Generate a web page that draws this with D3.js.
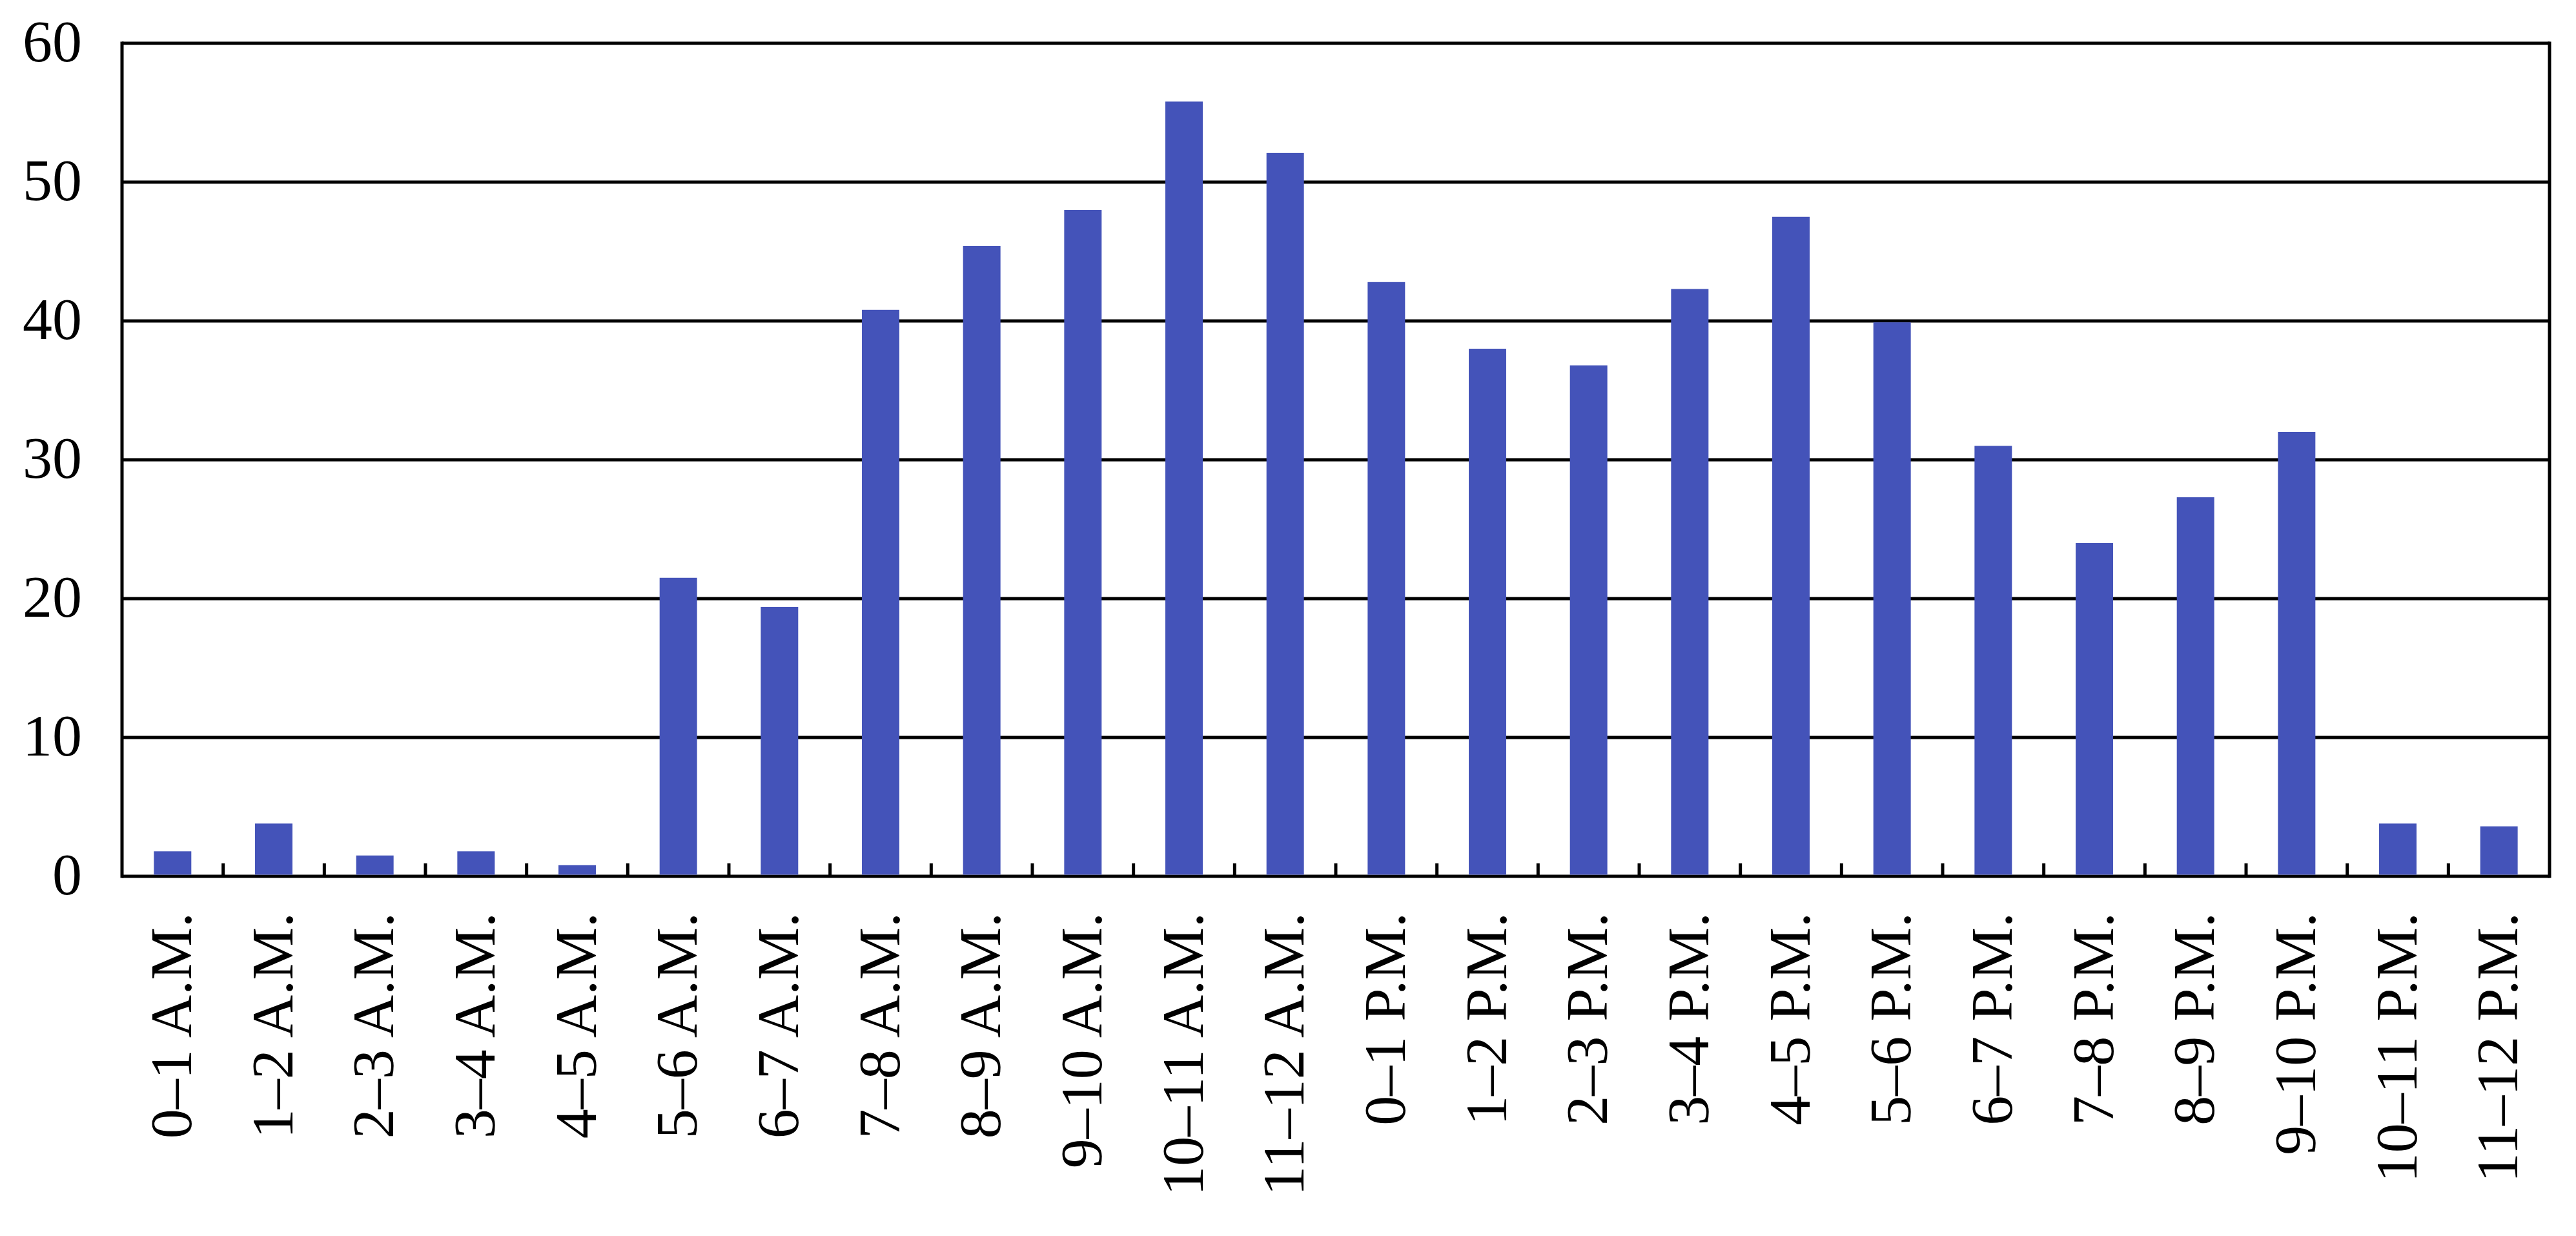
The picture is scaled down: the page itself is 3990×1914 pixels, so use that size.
<!DOCTYPE html>
<html>
<head>
<meta charset="utf-8">
<script src="https://cdn.jsdelivr.net/npm/d3@7"></script>
<style>
  body { margin: 0; background: #fff; }
  text { font-family: "Book Antiqua", "Palatino Linotype", "Liberation Serif", serif; fill: #000; }
</style>
</head>
<body>
<div id="chart"></div>
<script>
// hourly buckets, A.M. then P.M.
const hours = ["0–1 A.M.", "1–2 A.M.", "2–3 A.M.", "3–4 A.M.", "4–5 A.M.", "5–6 A.M.",
    "6–7 A.M.", "7–8 A.M.", "8–9 A.M.", "9–10 A.M.", "10–11 A.M.", "11–12 A.M.",
    "0–1 P.M.", "1–2 P.M.", "2–3 P.M.", "3–4 P.M.", "4–5 P.M.", "5–6 P.M.",
    "6–7 P.M.", "7–8 P.M.", "8–9 P.M.", "9–10 P.M.", "10–11 P.M.", "11–12 P.M."];
const counts = [1.8, 3.8, 1.5, 1.8, 0.8, 21.5, 19.4, 40.8, 45.4, 48.0, 55.8, 52.1,
    42.8, 38.0, 36.8, 42.3, 47.5, 39.9, 31.0, 24.0, 27.3, 32.0, 3.8, 3.6];
const yTicks = [0, 10, 20, 30, 40, 50, 60];

const W = 3990, H = 1914;
const margin = {top: 67, right: 41, bottom: 557, left: 189};
const width = W - margin.left - margin.right;
const height = H - margin.top - margin.bottom;
const fontSize = 92;

const svg = d3.select("#chart").append("svg")
    .attr("width", W)
    .attr("height", H)
    .style("background", "#fff");

const g = svg.append("g")
    .attr("transform", `translate(${margin.left}, ${margin.top})`);

const x = d3.scaleBand()
    .domain(hours)
    .range([0, width])
    .paddingInner(0.63)
    .paddingOuter(0.315);

const y = d3.scaleLinear()
    .domain([0, 60])
    .range([height, 0]);

// gridlines
g.append("g")
    .selectAll("line")
    .data(yTicks)
    .join("line")
    .attr("x1", 0)
    .attr("x2", width)
    .attr("y1", d => y(d))
    .attr("y2", d => y(d))
    .attr("stroke", "#000")
    .attr("stroke-width", 5);

// bars
g.append("g")
    .selectAll("rect")
    .data(counts)
    .join("rect")
    .attr("x", (d, i) => x(hours[i]))
    .attr("y", d => y(d))
    .attr("width", x.bandwidth())
    .attr("height", d => y(0) - y(d) - 2.5)
    .attr("fill", "#4453b9");

// frame: left and right sides
g.append("line")
    .attr("x1", 0).attr("x2", 0)
    .attr("y1", y(60) - 2.5).attr("y2", y(0) + 2.5)
    .attr("stroke", "#000").attr("stroke-width", 5);
g.append("line")
    .attr("x1", width).attr("x2", width)
    .attr("y1", y(60) - 2.5).attr("y2", y(0) + 2.5)
    .attr("stroke", "#000").attr("stroke-width", 5);

// category boundary ticks pointing up from the baseline
const step = x.step();
g.append("g")
    .selectAll("line")
    .data(hours.slice(1))
    .join("line")
    .attr("x1", d => x(d) - (step - x.bandwidth()) / 2)
    .attr("x2", d => x(d) - (step - x.bandwidth()) / 2)
    .attr("y1", y(0))
    .attr("y2", y(0) - 20)
    .attr("stroke", "#000")
    .attr("stroke-width", 5);

// y axis labels
const yAxis = d3.axisLeft(y).tickValues(yTicks).tickSize(0).tickPadding(62);
g.append("g")
    .call(yAxis)
    .call(a => a.select(".domain").remove())
    .selectAll("text")
    .attr("font-size", fontSize)
    .attr("font-family", null)
    .attr("dy", "0.3em");

// x axis labels, rotated
const xAxis = d3.axisBottom(x).tickSize(0).tickPadding(0);
g.append("g")
    .attr("transform", `translate(0, ${height})`)
    .call(xAxis)
    .call(a => a.select(".domain").remove())
    .selectAll("text")
    .attr("font-size", fontSize)
    .attr("font-family", null)
    .attr("text-anchor", "end")
    .attr("transform", "translate(0, 56) rotate(-90)")
    .attr("x", 0)
    .attr("y", 0)
    .attr("dy", "0.31em");
</script>
</body>
</html>
